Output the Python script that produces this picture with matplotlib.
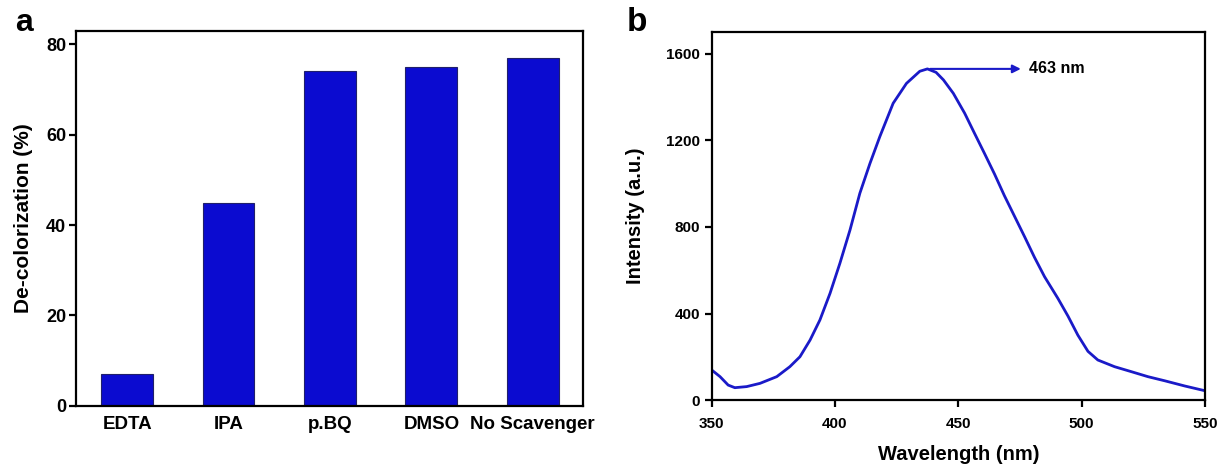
import numpy as np
import matplotlib
matplotlib.use('Agg')
import matplotlib.pyplot as plt

plt.rcParams['font.family'] = ['Liberation Sans', 'DejaVu Sans']
plt.rcParams['font.weight'] = 'bold'

# scavenger test
scavengers = ['EDTA', 'IPA', 'p.BQ', 'DMSO', 'No Scavenger']
decolorization = [7, 45, 74, 75, 77]

# PL emission spectrum
wavelength = [350, 353.4, 356.7, 359.4, 364.2, 369.6, 376.4, 381.7, 385.8, 389.9,
              393.9, 398, 402, 406.1, 410.1, 414.2, 418.2, 423.6, 429, 434.4,
              437.5, 441, 444, 448, 452.6, 456.6, 460.6, 464.7, 468.7, 472.8,
              476.9, 480.9, 485, 490.4, 494.5, 498.5, 502.6, 506.6, 513.4, 520.2,
              526.9, 533.7, 541.8, 550]
intensity = [139, 108, 69, 57, 62, 77, 108, 154, 200, 277,
             370, 493, 632, 786, 956, 1094, 1218, 1372, 1464, 1520,
             1531, 1515, 1480, 1418, 1326, 1233, 1141, 1045, 945, 850,
             755, 660, 570, 470, 388, 300, 225, 185, 154, 131,
             108, 89, 65, 43]
peak_label = '463 nm'

fig = plt.figure(figsize=(12.19, 4.66), dpi=100)
ax1 = fig.add_axes([0.0627, 0.129, 0.4159, 0.805])
ax2 = fig.add_axes([0.5838, 0.1416, 0.4046, 0.789])

for ax in (ax1, ax2):
    for s in ax.spines.values():
        s.set_linewidth(1.6)
    ax.tick_params(direction='out', length=5, width=1.6)

# panel a
x = np.arange(len(scavengers))
ax1.bar(x, decolorization, width=0.51, color='#0b0bd0', edgecolor='#20206a', linewidth=0.8)
ax1.set_xlim(-0.5, 4.5)
ax1.set_ylim(0, 83)
ax1.set_yticks([0, 20, 40, 60, 80])
ax1.set_xticks(x)
ax1.set_xticklabels(scavengers, fontsize=13.5)
ax1.tick_params(axis='x', length=0, pad=7)
ax1.tick_params(axis='y', labelsize=13, pad=2.5)
ax1.set_ylabel('De-colorization (%)', fontsize=15, fontweight='bold', labelpad=9)

# panel b
ax2.plot(wavelength, intensity, color='#1a1ac8', lw=2)
ax2.set_xlim(350, 550)
ax2.set_ylim(0, 1700)
ax2.set_xticks([350, 400, 450, 500, 550])
ax2.set_yticks([0, 400, 800, 1200, 1600])
ax2.tick_params(labelsize=11)
ax2.tick_params(axis='x', pad=7)
ax2.set_xlabel('Wavelength (nm)', fontsize=14.5, fontweight='bold', labelpad=10)
ax2.set_ylabel('Intensity (a.u.)', fontsize=14.5, fontweight='bold', labelpad=15)
ax2.annotate('', xy=(476.5, 1531), xytext=(437.5, 1531),
             arrowprops=dict(arrowstyle='-|>', color='#1a1ac8', lw=1.5, mutation_scale=12))
ax2.text(478.7, 1531, peak_label, fontsize=11.5, fontweight='bold', va='center', ha='left')

fig.text(0.0125, 0.951, 'a', fontsize=23, fontweight='bold', va='center')
fig.text(0.5145, 0.951, 'b', fontsize=24, fontweight='bold', va='center')

fig.savefig('out.png', dpi=100)
